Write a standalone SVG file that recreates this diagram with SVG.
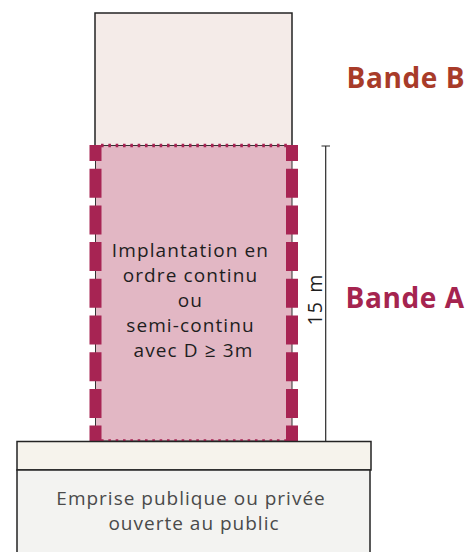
<svg xmlns="http://www.w3.org/2000/svg" width="476" height="552" viewBox="0 0 476 552">
  <defs>
    <style>
      .txt { font-family: "Open Sans", "DejaVu Sans", sans-serif; }
      .body { font-size: 19px; fill: #1e1e1e; letter-spacing: 1.1px; text-anchor: middle; }
      .base-txt { font-size: 19px; fill: #4a4a4a; letter-spacing: 1px; text-anchor: middle; }
      .band { font-size: 28px; font-weight: 700; letter-spacing: 0.6px; }
      .edge { fill: none; stroke: #232323; stroke-width: 1.5; }
      .dots { fill: none; stroke: #a72453; stroke-width: 3.6; stroke-dasharray: 2.6 4.73; }
      .dashes { fill: none; stroke: #a72453; stroke-width: 12; stroke-dasharray: 29 7.7; stroke-dashoffset: 13; }
      .dim { fill: none; stroke: #2a2a2a; stroke-width: 1.2; }
    </style>
  </defs>

  <!-- upper band (B) -->
  <g id="bande-b">
    <rect x="95" y="13" width="197" height="132" fill="#f4ebe8"/>
    <path class="edge" d="M95 145 V13 H292 V145"/>
  </g>

  <!-- lower band (A): hatched frontage zone -->
  <g id="bande-a">
    <rect x="95.5" y="145.5" width="196.5" height="295.5" fill="#e2b7c4" stroke="#333" stroke-width="1"/>
    <line class="dots" x1="101" y1="145.5" x2="288" y2="145.5"/>
    <line class="dots" x1="101" y1="441" x2="288" y2="441"/>
    <line class="dashes" x1="95.5" y1="145" x2="95.5" y2="442"/>
    <line class="dashes" x1="292" y1="145" x2="292" y2="442"/>
    <text class="txt body">
      <tspan x="193.5" y="257">Implantation en</tspan>
      <tspan x="193.5" y="282">ordre continu</tspan>
      <tspan x="193.5" y="306.5">ou</tspan>
      <tspan x="193.5" y="331.5">semi-continu</tspan>
      <tspan x="193.5" y="356.5">avec D ≥ 3m</tspan>
    </text>
  </g>

  <!-- street / public space -->
  <g id="emprise">
    <rect x="17" y="441.5" width="354" height="28.5" fill="#f6f3ec" stroke="#232323" stroke-width="1.5"/>
    <rect x="17" y="470" width="353" height="90" fill="#f3f3f1" stroke="#232323" stroke-width="1.5"/>
    <text class="txt base-txt">
      <tspan x="194" y="505">Emprise publique ou privée</tspan>
      <tspan x="194" y="530">ouverte au public</tspan>
    </text>
  </g>

  <!-- 15 m dimension -->
  <g id="cote">
    <path class="dim" d="M325.7 146 V441 M321.5 146 H330"/>
    <text class="txt" font-size="19.5" fill="#1e1e1e" letter-spacing="1.2" word-spacing="2" text-anchor="middle" transform="translate(322 299.5) rotate(-90)">15 m</text>
  </g>

  <!-- band labels -->
  <g id="labels">
    <text class="txt band" x="346.5" y="87.5" fill="#a83b29">Bande B</text>
    <text class="txt band" x="345.5" y="307.5" fill="#a5244f">Bande A</text>
  </g>
</svg>
